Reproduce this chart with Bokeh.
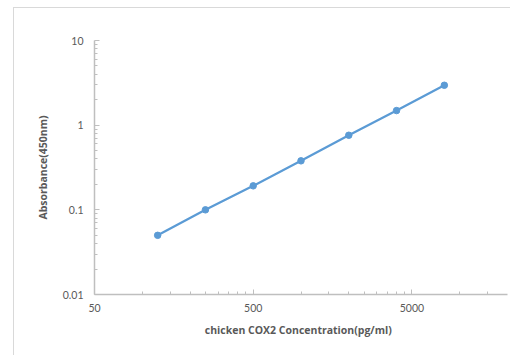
from bokeh.plotting import figure
from bokeh.models import FixedTicker, ColumnDataSource
from bokeh.embed import file_html
from bokeh.resources import INLINE

# Data
concentration = [125, 250, 500, 1000, 2000, 4000, 8000]
absorbance = [0.050, 0.100, 0.192, 0.379, 0.760, 1.487, 2.96]

x_major = [50, 500, 5000]
x_minor = [100, 150, 200, 250, 300, 350, 400, 450,
           1000, 1500, 2000, 2500, 3000, 3500, 4000, 4500,
           10000, 15000]
y_major = [0.01, 0.1, 1, 10]
y_minor = [0.02, 0.03, 0.04, 0.05, 0.06, 0.07, 0.08, 0.09,
           0.2, 0.3, 0.4, 0.5, 0.6, 0.7, 0.8, 0.9,
           2, 3, 4, 5, 6, 7, 8, 9]

x_label = "chicken  COX2  Concentration(pg/ml)"
y_label = "Absorbance(450nm)"

src = ColumnDataSource(dict(x=concentration, y=absorbance))

p = figure(width=497, height=348, x_axis_type="log", y_axis_type="log",
           x_range=(50, 20000), y_range=(0.01, 10),
           output_backend="svg", toolbar_location=None,
           min_border_left=80, min_border_top=32, min_border_right=4,
           min_border_bottom=62)
p.styles = {"margin-left": "13px", "margin-top": "7px",
            "border-left": "1px solid #d9d9d9",
            "border-top": "1px solid #d9d9d9"}
p.outline_line_color = None
p.xgrid.visible = False
p.ygrid.visible = False
p.background_fill_color = "white"
p.border_fill_color = "white"

blue = "#5b9bd5"
p.line("x", "y", source=src, line_color=blue, line_width=2.25)
p.scatter("x", "y", source=src, size=6.5, fill_color=blue, line_color=blue)

p.xaxis.ticker = FixedTicker(ticks=x_major, minor_ticks=x_minor)
p.yaxis.ticker = FixedTicker(ticks=y_major, minor_ticks=y_minor)
p.xaxis.major_label_overrides = {50: "50", 500: "500", 5000: "5000"}
p.yaxis.major_label_overrides = {0.01: "0.01", 0.1: "0.1", 1: "1", 10: "10"}

for ax in (p.xaxis[0], p.yaxis[0]):
    ax.axis_line_color = "#bfbfbf"
    ax.axis_line_width = 1.5
    ax.major_tick_line_color = "#bfbfbf"
    ax.minor_tick_line_color = "#bfbfbf"
    ax.major_tick_in = 5
    ax.major_tick_out = 0
    ax.minor_tick_in = 3
    ax.minor_tick_out = 0
    ax.major_label_text_font = "Lato"
    ax.major_label_text_font_size = "10.5px"
    ax.major_label_text_color = "#595959"
    ax.axis_label_text_font = "Open Sans"
    ax.axis_label_text_font_size = "10.5px"
    ax.axis_label_text_color = "#595959"
    ax.axis_label_text_font_style = "bold"

p.xaxis.axis_label = x_label
p.yaxis.axis_label = y_label
p.xaxis.major_label_standoff = 9
p.yaxis.major_label_standoff = 11
p.xaxis.axis_label_standoff = 8
p.yaxis.axis_label_standoff = 10

open("out.html", "w").write(file_html(p, INLINE))
